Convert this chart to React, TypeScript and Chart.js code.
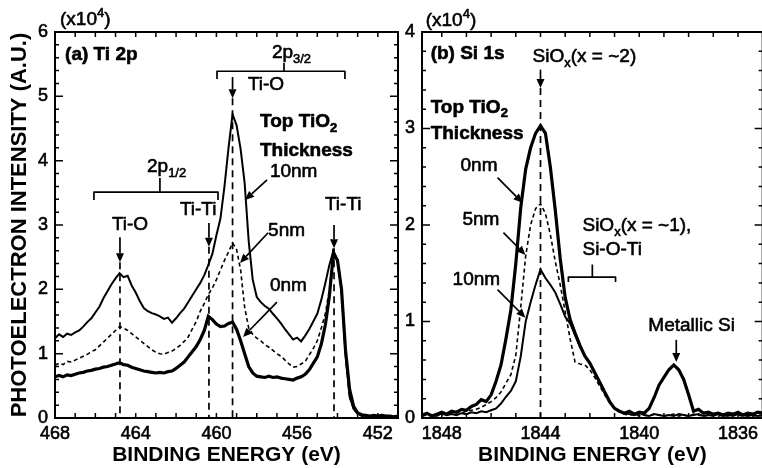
import React, { useEffect, useRef } from "react";
import { Chart, registerables } from "chart.js";
Chart.register(...registerables);

// ---------- Panel (a) Ti 2p ----------
const ENERGY_A = [
  468.0, 467.8, 467.6, 467.4, 467.2, 467.0, 466.8, 466.6, 466.4, 466.2,
  466.0, 465.8, 465.6, 465.4, 465.2, 465.0, 464.8, 464.6, 464.4, 464.2,
  464.0, 463.8, 463.6, 463.4, 463.2, 463.0, 462.8, 462.6, 462.4, 462.2,
  462.0, 461.8, 461.6, 461.4, 461.2, 461.0, 460.8, 460.6, 460.4, 460.2,
  460.0, 459.8, 459.6, 459.4, 459.2, 459.0, 458.8, 458.6, 458.4, 458.2,
  458.0, 457.8, 457.6, 457.4, 457.2, 457.0, 456.8, 456.6, 456.4, 456.2,
  456.0, 455.8, 455.6, 455.4, 455.2, 455.0, 454.8, 454.6, 454.4, 454.2,
  454.0, 453.8, 453.6, 453.4, 453.2, 453.0, 452.8, 452.6, 452.4, 452.2,
  452.0, 451.8, 451.6, 451.4, 451.2, 451.0,
];
const TI_10NM = [
  1.24, 1.30, 1.26, 1.31, 1.29, 1.33, 1.36, 1.42, 1.49, 1.55,
  1.64, 1.73, 1.86, 1.97, 2.08, 2.17, 2.25, 2.19, 2.21, 2.06,
  1.95, 1.82, 1.71, 1.66, 1.63, 1.61, 1.58, 1.54, 1.56, 1.48,
  1.55, 1.63, 1.70, 1.80, 1.90, 2.00, 2.10, 2.22, 2.38, 2.55,
  2.84, 3.10, 3.60, 4.20, 4.72, 4.55, 4.18, 3.65, 2.75, 2.15,
  1.88, 1.80, 1.74, 1.70, 1.62, 1.55, 1.47, 1.38, 1.30, 1.22,
  1.25, 1.19, 1.28, 1.38, 1.50, 1.62, 1.84, 2.10, 2.38, 2.60,
  2.45, 2.00, 0.98, 0.33, 0.14, 0.07, 0.03, 0.04, 0.02, 0.03,
  0.02, 0.04, 0.02, 0.03, 0.02, 0.03,
];
const TI_5NM = [
  0.82, 0.85, 0.83, 0.88, 0.87, 0.90, 0.93, 0.96, 0.99, 1.03,
  1.06, 1.12, 1.18, 1.24, 1.30, 1.36, 1.42, 1.40, 1.36, 1.31,
  1.26, 1.21, 1.16, 1.11, 1.06, 1.02, 1.00, 0.99, 1.02, 1.04,
  1.08, 1.13, 1.19, 1.26, 1.38, 1.50, 1.66, 1.78, 1.92, 2.02,
  2.15, 2.30, 2.45, 2.58, 2.72, 2.62, 2.30, 1.72, 1.40, 1.30,
  1.24, 1.20, 1.14, 1.10, 1.05, 1.00, 0.96, 0.90, 0.84, 0.79,
  0.80, 0.84, 0.88, 0.98, 1.08, 1.20, 1.40, 1.62, 2.00, 2.56,
  2.45, 2.00, 0.98, 0.33, 0.14, 0.06, 0.04, 0.03, 0.03, 0.02,
  0.03, 0.02, 0.03, 0.02, 0.03, 0.02,
];
const TI_0NM = [
  0.64, 0.66, 0.64, 0.67, 0.66, 0.68, 0.70, 0.71, 0.73, 0.74,
  0.76, 0.77, 0.79, 0.80, 0.82, 0.84, 0.86, 0.83, 0.82, 0.79,
  0.77, 0.75, 0.73, 0.72, 0.71, 0.70, 0.71, 0.70, 0.72, 0.73,
  0.77, 0.82, 0.87, 0.95, 1.03, 1.11, 1.22, 1.36, 1.58, 1.53,
  1.46, 1.42, 1.43, 1.47, 1.49, 1.38, 1.20, 1.00, 0.80, 0.70,
  0.65, 0.64, 0.63, 0.65, 0.63, 0.64, 0.62, 0.61, 0.60, 0.59,
  0.62, 0.64, 0.68, 0.75, 0.85, 0.95, 1.15, 1.45, 1.90, 2.56,
  2.45, 2.00, 1.05, 0.45, 0.18, 0.08, 0.05, 0.04, 0.03, 0.04,
  0.03, 0.04, 0.03, 0.03, 0.02, 0.03,
];
const X_TICKS_A = [468, 464, 460, 456, 452];
const Y_TICKS_A = [0, 1, 2, 3, 4, 5, 6];

// ---------- Panel (b) Si 1s ----------
const ENERGY_B = [
  1848.8, 1848.6, 1848.4, 1848.2, 1848.0, 1847.8, 1847.6, 1847.4, 1847.2, 1847.0,
  1846.8, 1846.6, 1846.4, 1846.2, 1846.0, 1845.8, 1845.6, 1845.4, 1845.2, 1845.0,
  1844.8, 1844.6, 1844.4, 1844.2, 1844.0, 1843.8, 1843.6, 1843.4, 1843.2, 1843.0,
  1842.8, 1842.6, 1842.4, 1842.2, 1842.0, 1841.8, 1841.6, 1841.4, 1841.2, 1841.0,
  1840.8, 1840.6, 1840.4, 1840.2, 1840.0, 1839.8, 1839.6, 1839.4, 1839.2, 1839.0,
  1838.8, 1838.6, 1838.4, 1838.2, 1838.0, 1837.8, 1837.6, 1837.4, 1837.2, 1837.0,
  1836.8, 1836.6, 1836.4, 1836.2, 1836.0, 1835.8, 1835.6, 1835.4, 1835.2, 1835.0,
];
const SI_0NM = [
  0.03, 0.05, 0.02, 0.04, 0.06, 0.04, 0.07, 0.06, 0.09, 0.08,
  0.12, 0.14, 0.19, 0.17, 0.24, 0.38, 0.55, 0.82, 1.12, 1.60,
  2.18, 2.58, 2.80, 2.95, 3.03, 2.95, 2.60, 2.15, 1.65, 1.25,
  1.02, 0.88, 0.75, 0.64, 0.57, 0.47, 0.37, 0.27, 0.17, 0.10,
  0.07, 0.05, 0.07, 0.04, 0.06, 0.05, 0.10, 0.21, 0.34, 0.42,
  0.50, 0.55, 0.50, 0.40, 0.24, 0.07, 0.09, 0.05, 0.06, 0.04,
  0.05, 0.03, 0.05, 0.04, 0.06, 0.03, 0.05, 0.04, 0.06, 0.05,
];
const SI_5NM = [
  0.02, 0.03, 0.02, 0.04, 0.03, 0.05, 0.04, 0.06, 0.05, 0.07,
  0.08, 0.09, 0.11, 0.14, 0.17, 0.21, 0.27, 0.36, 0.45, 0.65,
  1.15, 1.68, 2.00, 2.17, 2.22, 2.12, 1.90, 1.62, 1.38, 1.10,
  0.82, 0.58, 0.56, 0.55, 0.50, 0.42, 0.33, 0.24, 0.16, 0.10,
  0.06, 0.04, 0.03, 0.04, 0.02, 0.03, 0.02, 0.04, 0.03, 0.02,
  0.03, 0.04, 0.02, 0.03, 0.02, 0.04, 0.03, 0.02, 0.03, 0.04,
  0.02, 0.03, 0.02, 0.04, 0.03, 0.02, 0.03, 0.02, 0.03, 0.02,
];
const SI_10NM = [
  0.02, 0.04, 0.03, 0.02, 0.05, 0.03, 0.04, 0.03, 0.05, 0.04,
  0.06, 0.05, 0.07, 0.06, 0.08, 0.10, 0.15, 0.22, 0.28, 0.38,
  0.64, 1.00, 1.20, 1.38, 1.54, 1.45, 1.38, 1.30, 1.18, 1.05,
  0.98, 0.86, 0.74, 0.64, 0.56, 0.46, 0.36, 0.26, 0.17, 0.10,
  0.07, 0.05, 0.04, 0.03, 0.05, 0.03, 0.02, 0.04, 0.03, 0.02,
  0.03, 0.02, 0.04, 0.03, 0.02, 0.03, 0.04, 0.02, 0.03, 0.02,
  0.04, 0.02, 0.03, 0.02, 0.04, 0.03, 0.02, 0.03, 0.02, 0.03,
];
const X_TICKS_B = [1848, 1844, 1840, 1836];
const Y_TICKS_B = [0, 1, 2, 3, 4];

const FONT = '"Liberation Sans", Arial, Helvetica, sans-serif';

type Part = [string, ("sub" | "sup")?];
type Note =
  | { k: "text"; x: number; y: number; parts: Part[]; bold?: boolean; size?: number }
  | { k: "arrow"; x1: number; y1: number; x2: number; y2: number }
  | { k: "dash"; x: number; y1: number; y2: number }
  | { k: "bracket"; x1: number; x2: number; y: number; drop: number; xc: number; rise: number };

const NOTES_A: Note[] = [
  { k: "text", x: 467.75, y: 6.19, parts: [["(x10"], ["4", "sup"], [")"]] },
  { k: "text", x: 467.5, y: 5.64, parts: [["(a) Ti 2p"]], bold: true },
  { k: "text", x: 457.25, y: 5.67, parts: [["2p"], ["3/2", "sub"]] },
  { k: "bracket", x1: 459.97, x2: 453.63, y: 5.39, drop: 5.27, xc: 456.65, rise: 5.52 },
  { k: "arrow", x1: 459.2, y1: 5.3, x2: 459.2, y2: 4.97 },
  { k: "text", x: 458.44, y: 5.18, parts: [["Ti-O"]] },
  { k: "text", x: 457.84, y: 4.6, parts: [["Top TiO"], ["2", "sub"]], bold: true },
  { k: "text", x: 457.84, y: 4.15, parts: [["Thickness"]], bold: true },
  { k: "text", x: 457.35, y: 3.82, parts: [["10nm"]] },
  { k: "arrow", x1: 457.49, y1: 3.7, x2: 458.58, y2: 3.39 },
  { k: "text", x: 463.44, y: 3.9, parts: [["2p"], ["1/2", "sub"]] },
  { k: "bracket", x1: 466.07, x2: 459.92, y: 3.51, drop: 3.39, xc: 462.8, rise: 3.73 },
  { k: "text", x: 461.81, y: 3.23, parts: [["Ti-Ti"]] },
  { k: "arrow", x1: 460.37, y1: 3.03, x2: 460.37, y2: 2.66 },
  { k: "text", x: 465.18, y: 3.0, parts: [["Ti-O"]] },
  { k: "arrow", x1: 464.78, y1: 2.81, x2: 464.78, y2: 2.42 },
  { k: "text", x: 454.62, y: 3.31, parts: [["Ti-Ti"]] },
  { k: "arrow", x1: 454.17, y1: 3.0, x2: 454.17, y2: 2.64 },
  { k: "text", x: 457.44, y: 2.91, parts: [["5nm"]] },
  { k: "arrow", x1: 457.44, y1: 2.88, x2: 458.83, y2: 2.41 },
  { k: "text", x: 457.35, y: 2.05, parts: [["0nm"]] },
  { k: "arrow", x1: 457.0, y1: 1.8, x2: 458.68, y2: 1.26 },
  { k: "dash", x: 464.78, y1: 2.42, y2: 0 },
  { k: "dash", x: 460.37, y1: 2.66, y2: 0 },
  { k: "dash", x: 459.2, y1: 4.97, y2: 0 },
  { k: "dash", x: 454.17, y1: 2.64, y2: 0 },
];

const NOTES_B: Note[] = [
  { k: "text", x: 1848.65, y: 4.12, parts: [["(x10"], ["4", "sup"], [")"]] },
  { k: "text", x: 1848.45, y: 3.77, parts: [["(b) Si 1s"]], bold: true },
  { k: "text", x: 1844.32, y: 3.74, parts: [["SiO"], ["x", "sub"], ["(x = ~2)"]] },
  { k: "arrow", x1: 1844.0, y1: 3.61, x2: 1844.0, y2: 3.42 },
  { k: "dash", x: 1844.0, y1: 3.42, y2: 0 },
  { k: "text", x: 1848.45, y: 3.22, parts: [["Top TiO"], ["2", "sub"]], bold: true },
  { k: "text", x: 1848.45, y: 2.95, parts: [["Thickness"]], bold: true },
  { k: "text", x: 1847.24, y: 2.61, parts: [["0nm"]] },
  { k: "arrow", x1: 1845.74, y1: 2.49, x2: 1844.73, y2: 2.23 },
  { k: "text", x: 1847.16, y: 2.05, parts: [["5nm"]] },
  { k: "arrow", x1: 1845.5, y1: 1.92, x2: 1844.61, y2: 1.69 },
  { k: "text", x: 1847.56, y: 1.43, parts: [["10nm"]] },
  { k: "arrow", x1: 1845.74, y1: 1.33, x2: 1844.61, y2: 1.04 },
  { k: "text", x: 1842.3, y: 1.99, parts: [["SiO"], ["x", "sub"], ["(x = ~1),"]] },
  { k: "text", x: 1842.3, y: 1.74, parts: [["Si-O-Ti"]] },
  { k: "bracket", x1: 1842.87, x2: 1840.96, y: 1.46, drop: 1.41, xc: 1841.9, rise: 1.59 },
  { k: "text", x: 1839.63, y: 0.96, parts: [["Metallic Si"]] },
  { k: "arrow", x1: 1838.5, y1: 0.81, x2: 1838.5, y2: 0.58 },
];

function drawArrow(ctx: CanvasRenderingContext2D, x1: number, y1: number, x2: number, y2: number) {
  const ang = Math.atan2(y2 - y1, x2 - x1);
  const hl = 9, hw = 4;
  const bx = x2 - hl * Math.cos(ang), by = y2 - hl * Math.sin(ang);
  ctx.beginPath();
  ctx.moveTo(x1, y1);
  ctx.lineTo(bx, by);
  ctx.stroke();
  ctx.beginPath();
  ctx.moveTo(x2, y2);
  ctx.lineTo(bx + hw * Math.sin(ang), by - hw * Math.cos(ang));
  ctx.lineTo(bx - hw * Math.sin(ang), by + hw * Math.cos(ang));
  ctx.closePath();
  ctx.fill();
}

function makeNotesPlugin(notes: Note[], id: string) {
  return {
    id,
    afterDatasetsDraw(chart: any) {
      const ctx: CanvasRenderingContext2D = chart.ctx;
      const xs = chart.scales.x, ys = chart.scales.y;
      const px = (v: number) => xs.getPixelForValue(v);
      const py = (v: number) => ys.getPixelForValue(v);
      ctx.save();
      ctx.fillStyle = "#000";
      ctx.strokeStyle = "#000";
      for (const n of notes) {
        if (n.k === "text") {
          const size = n.size || 19;
          const w = n.bold ? "bold" : "normal";
          let cx = px(n.x);
          const cy = py(n.y);
          ctx.textBaseline = "middle";
          ctx.textAlign = "left";
          ctx.lineWidth = 0.6;
          ctx.lineJoin = "round";
          ctx.setLineDash([]);
          for (const [t, s] of n.parts) {
            const fs = s ? Math.round(size * 0.7) : size;
            ctx.font = `${w} ${fs}px ${FONT}`;
            const dy = s === "sub" ? size * 0.32 : s === "sup" ? -size * 0.32 : 0;
            ctx.fillText(t, cx, cy + dy);
            ctx.strokeText(t, cx, cy + dy);
            cx += ctx.measureText(t).width;
          }
        } else if (n.k === "arrow") {
          ctx.lineWidth = 1.7;
          ctx.setLineDash([]);
          drawArrow(ctx, px(n.x1), py(n.y1), px(n.x2), py(n.y2));
        } else if (n.k === "dash") {
          ctx.lineWidth = 1.7;
          ctx.setLineDash([7, 5]);
          ctx.beginPath();
          ctx.moveTo(px(n.x), py(n.y1));
          ctx.lineTo(px(n.x), py(n.y2));
          ctx.stroke();
          ctx.setLineDash([]);
        } else if (n.k === "bracket") {
          ctx.lineWidth = 1.7;
          ctx.setLineDash([]);
          ctx.beginPath();
          ctx.moveTo(px(n.x1), py(n.drop));
          ctx.lineTo(px(n.x1), py(n.y));
          ctx.lineTo(px(n.x2), py(n.y));
          ctx.lineTo(px(n.x2), py(n.drop));
          ctx.moveTo(px(n.xc), py(n.y));
          ctx.lineTo(px(n.xc), py(n.rise));
          ctx.stroke();
        }
      }
      ctx.restore();
    },
  };
}

const framePlugin = {
  id: "frame",
  afterDraw(chart: any) {
    const ctx: CanvasRenderingContext2D = chart.ctx;
    const { left, right, top, bottom } = chart.chartArea;
    const xs = chart.scales.x, ys = chart.scales.y;
    ctx.save();
    ctx.strokeStyle = "#000";
    ctx.lineWidth = 2;
    ctx.setLineDash([]);
    ctx.strokeRect(left, top, right - left, bottom - top);
    ctx.lineWidth = 1.5;
    ctx.beginPath();
    for (let v = Math.ceil(xs.min); v <= xs.max; v += 1) {
      const x = xs.getPixelForValue(v);
      ctx.moveTo(x, bottom);
      ctx.lineTo(x, bottom - 5);
      ctx.moveTo(x, top);
      ctx.lineTo(x, top + 5);
    }
    const steps = Math.round((ys.max - ys.min) / 0.2);
    for (let i = 0; i <= steps; i++) {
      const v = ys.min + i * 0.2;
      const major = i % 5 === 0;
      const len = major ? 8 : 4;
      const y = ys.getPixelForValue(v);
      ctx.moveTo(left, y);
      ctx.lineTo(left + len, y);
      ctx.moveTo(right, y);
      ctx.lineTo(right - len, y);
    }
    ctx.stroke();
    ctx.restore();
  },
};

function pts(xs: number[], ys: number[]) {
  return xs.map((x, i) => ({ x, y: ys[i] }));
}

function makeConfig(opts: {
  energy: number[];
  series: { data: number[]; width: number; dash: number[] }[];
  xmin: number; xmax: number; ymax: number;
  xticks: number[]; yticks: number[];
  yWidth: number; padRight: number;
  yTitle?: string;
  notes: Note[]; id: string;
}): any {
  return {
    type: "line",
    data: {
      datasets: opts.series.map((s) => ({
        data: pts(opts.energy, s.data),
        borderColor: "#000",
        borderWidth: s.width,
        borderDash: s.dash,
        pointRadius: 0,
        tension: 0,
        fill: false,
      })),
    },
    options: {
      animation: false,
      responsive: false,
      devicePixelRatio: 1,
      layout: { padding: { top: 32, right: opts.padRight, left: 0, bottom: 0 } },
      plugins: { legend: { display: false }, tooltip: { enabled: false } },
      scales: {
        x: {
          type: "linear",
          reverse: true,
          min: opts.xmin,
          max: opts.xmax,
          afterBuildTicks: (s: any) => { s.ticks = opts.xticks.map((v) => ({ value: v })); },
          afterFit: (s: any) => { s.height = 50; },
          grid: { display: false, drawTicks: false },
          border: { display: false },
          ticks: {
            color: "#000",
            font: { family: FONT, size: 18 },
            textStrokeColor: "#000",
            textStrokeWidth: 0.6,
            padding: 5,
            maxRotation: 0,
            autoSkip: false,
            callback: (v: any) => String(v),
          },
          title: {
            display: true,
            text: "BINDING ENERGY (eV)",
            color: "#000",
            font: { family: FONT, size: 21, weight: "bold" },
            padding: { top: 0, bottom: 0 },
          },
        },
        y: {
          type: "linear",
          min: 0,
          max: opts.ymax,
          afterBuildTicks: (s: any) => { s.ticks = opts.yticks.map((v) => ({ value: v })); },
          afterFit: (s: any) => { s.width = opts.yWidth; },
          grid: { display: false, drawTicks: false },
          border: { display: false },
          ticks: {
            color: "#000",
            font: { family: FONT, size: 18 },
            textStrokeColor: "#000",
            textStrokeWidth: 0.6,
            padding: 7,
            callback: (v: any) => String(v),
          },
          title: {
            display: !!opts.yTitle,
            text: opts.yTitle || "",
            color: "#000",
            font: { family: FONT, size: 22, weight: "bold" },
            padding: { top: 7, bottom: 0 },
          },
        },
      },
    },
    plugins: [framePlugin, makeNotesPlugin(opts.notes, opts.id)],
  };
}

export default function App() {
  const refA = useRef<HTMLCanvasElement>(null);
  const refB = useRef<HTMLCanvasElement>(null);
  useEffect(() => {
    const a = new Chart(
      refA.current as HTMLCanvasElement,
      makeConfig({
        energy: ENERGY_A,
        series: [
          { data: TI_5NM, width: 1.6, dash: [4, 3] },
          { data: TI_10NM, width: 2, dash: [] },
          { data: TI_0NM, width: 3.2, dash: [] },
        ],
        xmin: 451, xmax: 468, ymax: 6,
        xticks: X_TICKS_A, yticks: Y_TICKS_A,
        yWidth: 55, padRight: 2,
        yTitle: "PHOTOELECTRON INTENSITY (A.U.)",
        notes: NOTES_A, id: "notesA",
      })
    );
    const b = new Chart(
      refB.current as HTMLCanvasElement,
      makeConfig({
        energy: ENERGY_B,
        series: [
          { data: SI_5NM, width: 1.6, dash: [4, 3] },
          { data: SI_10NM, width: 2, dash: [] },
          { data: SI_0NM, width: 3.2, dash: [] },
        ],
        xmin: 1835.0, xmax: 1848.8, ymax: 4,
        xticks: X_TICKS_B, yticks: Y_TICKS_B,
        yWidth: 22, padRight: 0,
        notes: NOTES_B, id: "notesB",
      })
    );
    return () => {
      a.destroy();
      b.destroy();
    };
  }, []);
  return (
    <div style={{ position: "absolute", left: 0, top: 0, width: 762, height: 468, overflow: "hidden", background: "#fff" }}>
      <canvas ref={refA} width={400} height={468} style={{ position: "absolute", left: 0, top: 0 }} />
      <canvas ref={refB} width={363} height={468} style={{ position: "absolute", left: 400, top: 0 }} />
    </div>
  );
}
